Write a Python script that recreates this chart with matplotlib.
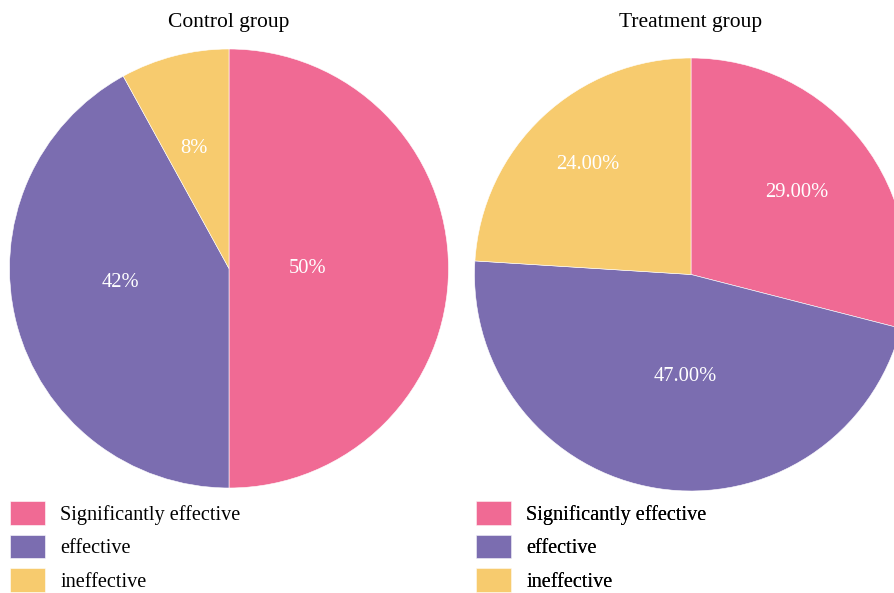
import matplotlib
matplotlib.use("Agg")
import matplotlib.pyplot as plt
import numpy as np

plt.rcParams["font.family"] = ["Liberation Serif", "DejaVu Serif"]

CATEGORIES = ["Significantly effective", "effective", "ineffective"]
COLORS = ["#F06A94", "#7B6DB0", "#F7CB6E"]

CONTROL = [50, 42, 8]
TREATMENT = [29, 47, 24]

TITLES = ["Control group", "Treatment group"]
LABEL_FMT = ["{:.0f}%", "{:.2f}%"]

# per-slice placement of the percentage text: radius fraction, angle shift (deg)
LABEL_DIST = [[0.36, 0.50, 0.57], [0.62, 0.47, 0.70]]
LABEL_SHIFT = [[0, -7, 2], [0, 6, 0]]

W, H = 895, 593
fig = plt.figure(figsize=(W / 100, H / 100), dpi=100)
ax = fig.add_axes([0, 0, 1, 1])

pies = [
    dict(values=CONTROL, center=(229, H - 268.5), radius=219.5, legend_x=6),
    dict(values=TREATMENT, center=(691, H - 274.5), radius=216.5, legend_x=472),
]

for k, p in enumerate(pies):
    wedges, _ = ax.pie(p["values"], colors=COLORS, startangle=90, counterclock=False,
                       center=p["center"], radius=p["radius"], frame=True,
                       wedgeprops=dict(edgecolor="white", linewidth=0.4))
    cx, cy = p["center"]
    for w, v, d, s in zip(wedges, p["values"], LABEL_DIST[k], LABEL_SHIFT[k]):
        mid = np.deg2rad((w.theta1 + w.theta2) / 2 + s)
        ax.text(cx + d * p["radius"] * np.cos(mid), cy + d * p["radius"] * np.sin(mid),
                LABEL_FMT[k].format(v), color="white", fontsize=14.8,
                ha="center", va="center")
    ax.text(cx, H - 22, TITLES[k], fontsize=15.5, ha="center", va="center")
    leg = ax.legend(wedges, CATEGORIES, loc="upper left",
                    bbox_to_anchor=(p["legend_x"] / W, 1 - 497 / H),
                    bbox_transform=fig.transFigure, frameon=False, fontsize=14.6,
                    handlelength=1.72, handleheight=1.41, handletextpad=0.75,
                    labelspacing=0.5, borderaxespad=0, borderpad=0.2)
    ax.add_artist(leg)

ax.set_xlim(0, W)
ax.set_ylim(0, H)
ax.set_aspect("equal")
ax.axis("off")

fig.savefig("out.png", dpi=100)
